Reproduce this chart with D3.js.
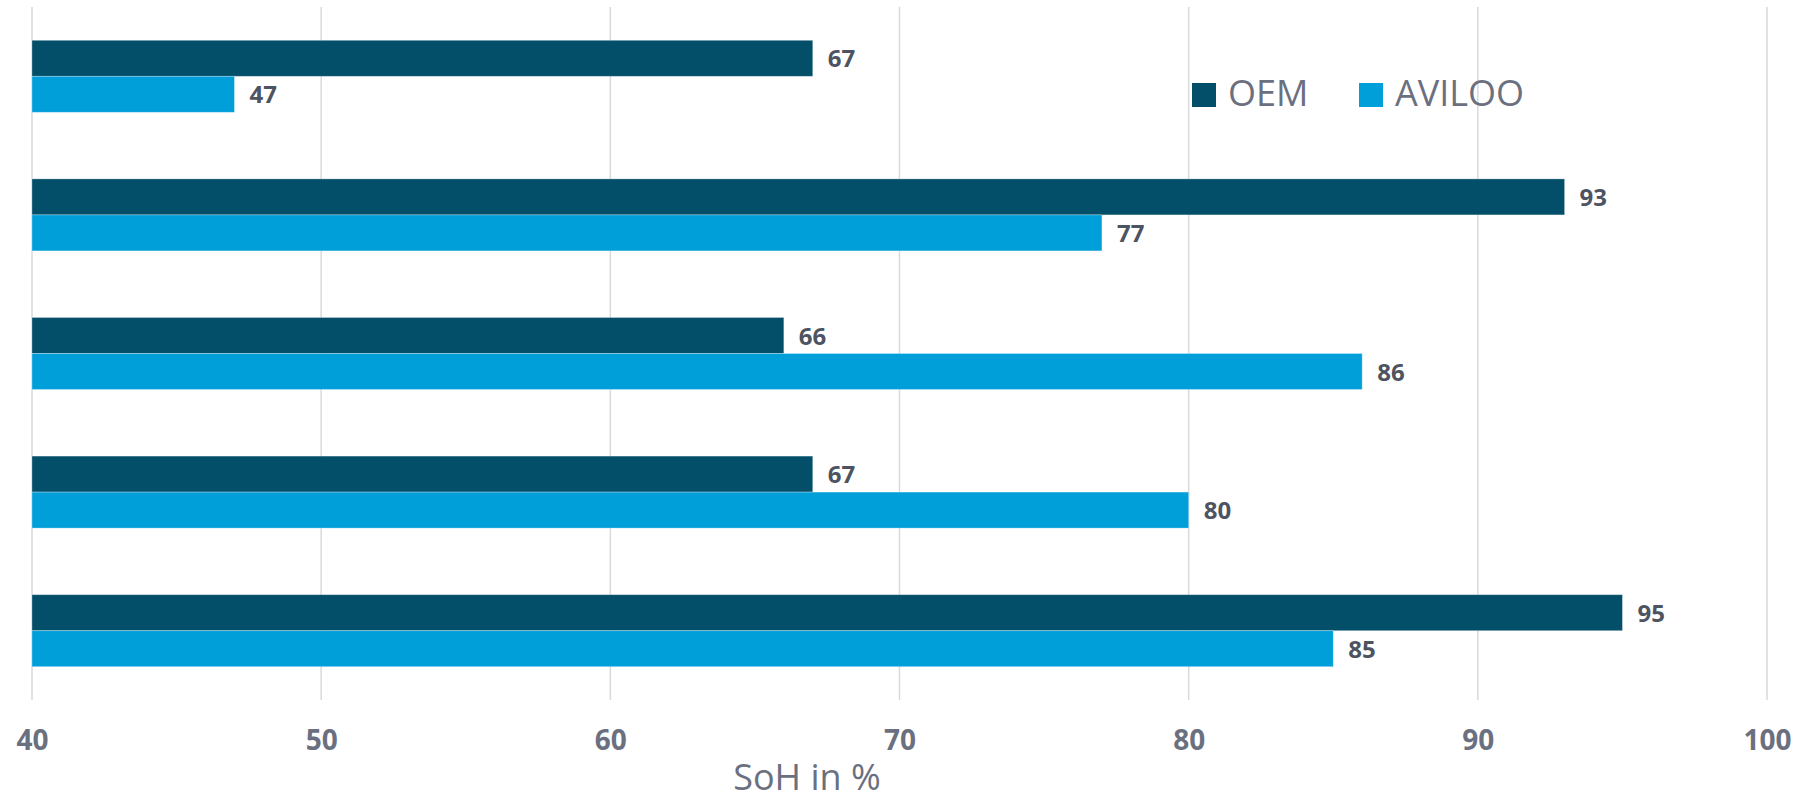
<!DOCTYPE html>
<html>
<head>
<meta charset="utf-8">
<script src="https://cdn.jsdelivr.net/npm/d3@7"></script>
<style>
  html, body { margin: 0; padding: 0; background: #ffffff; }
  svg { display: block; }
</style>
</head>
<body>
<svg id="chart" width="1819" height="801"></svg>
<script>
// Battery state of health per vehicle: manufacturer (OEM) vs AVILOO measurement
const vehicles = ["Fahrzeug 1", "Fahrzeug 2", "Fahrzeug 3", "Fahrzeug 4", "Fahrzeug 5"];
const seriesNames = ["OEM", "AVILOO"];
const oemValues = [67, 93, 66, 67, 95];
const avilooValues = [47, 77, 86, 80, 85];
const xTicks = [40, 50, 60, 70, 80, 90, 100];
const axisTitle = "SoH in %";

const colors = { OEM: "#034e69", AVILOO: "#009fda" };

const rows = vehicles.map((v, i) => ({
  vehicle: v,
  OEM: oemValues[i],
  AVILOO: avilooValues[i]
}));

const svg = d3.select("#chart");
const plot = { left: 32, right: 1767, top: 7, bottom: 700 };

const x = d3.scaleLinear().domain([40, 100]).range([plot.left, plot.right]);
const y = d3.scaleBand().domain(vehicles).range([plot.top, plot.bottom]).paddingInner(0).paddingOuter(0);
const inner = d3.scaleBand().domain(seriesNames).range([0, 72]).padding(0);
const groupOffset = (y.bandwidth() - 72) / 2;

// Vertical gridlines
svg.append("g")
  .selectAll("line")
  .data(xTicks)
  .join("line")
  .attr("x1", d => x(d)).attr("x2", d => x(d))
  .attr("y1", plot.top).attr("y2", plot.bottom)
  .attr("stroke", "#d9d9de")
  .attr("stroke-width", 1.5);

// Tick labels along the bottom
const xAxis = d3.axisBottom(x).tickValues(xTicks).tickSize(0).tickPadding(0).tickFormat(d3.format("d"));
const axisG = svg.append("g").attr("transform", `translate(0, ${plot.bottom})`).call(xAxis);
axisG.select(".domain").remove();
axisG.selectAll("text")
  .attr("dy", null)
  .attr("y", 50)
  .attr("font-family", "'Open Sans', sans-serif")
  .attr("font-weight", "bold")
  .attr("font-size", 28)
  .attr("fill", "#6b7080");

// Bars
const groups = svg.append("g")
  .selectAll("g")
  .data(rows)
  .join("g")
  .attr("transform", d => `translate(0, ${y(d.vehicle) + groupOffset})`);

groups.selectAll("rect")
  .data(d => seriesNames.map(s => ({ series: s, value: d[s] })))
  .join("rect")
  .attr("x", x(40))
  .attr("y", d => inner(d.series))
  .attr("width", d => x(d.value) - x(40))
  .attr("height", inner.bandwidth())
  .attr("fill", d => colors[d.series])
  .attr("stroke", "#ffffff")
  .attr("stroke-opacity", 0.35)
  .attr("stroke-width", 0.8);

// Value labels
groups.selectAll("text")
  .data(d => seriesNames.map(s => ({ series: s, value: d[s] })))
  .join("text")
  .attr("x", d => x(d.value) + 15)
  .attr("y", d => inner(d.series) + inner.bandwidth() / 2)
  .attr("dy", "0.38em")
  .attr("font-family", "'Open Sans', sans-serif")
  .attr("font-weight", "bold")
  .attr("font-size", 24)
  .attr("fill", "#4d5360")
  .text(d => d.value);

// Legend
const legend = svg.append("g").attr("transform", "translate(1192, 83)");
const legendX = { OEM: 0, AVILOO: 167 };
seriesNames.forEach(s => {
  const g = legend.append("g").attr("transform", `translate(${legendX[s]}, 0)`);
  g.append("rect").attr("width", 24).attr("height", 24).attr("fill", colors[s]);
  g.append("text")
    .attr("x", 36).attr("y", 23)
    .attr("font-family", "'Open Sans', sans-serif")
    .attr("font-size", 36)
    .attr("fill", "#6b7080")
    .text(s);
});

// Axis title
svg.append("text")
  .attr("x", 807)
  .attr("y", 790)
  .attr("text-anchor", "middle")
  .attr("font-family", "'Open Sans', sans-serif")
  .attr("font-size", 36)
  .attr("fill", "#6b7080")
  .text(axisTitle);
</script>
</body>
</html>
